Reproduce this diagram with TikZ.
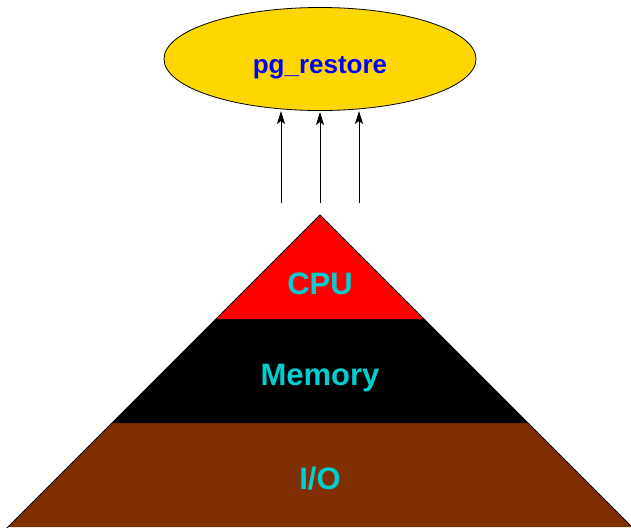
\documentclass[tikz,border=0pt]{standalone}
\usepackage{fontspec}
\setmainfont{Liberation Sans}
\usetikzlibrary{shapes.geometric,arrows.meta}
\definecolor{ellfill}{RGB}{255,215,0}
\definecolor{cpured}{RGB}{255,0,0}
\definecolor{iobrown}{RGB}{128,48,0}
\definecolor{labcyan}{RGB}{0,206,209}
\definecolor{titleblue}{RGB}{0,0,255}
\begin{document}
\begin{tikzpicture}[x=1pt,y=-1pt,
  lab/.style={text=labcyan,font=\fontsize{31}{32}\selectfont\bfseries},
  uparrow/.style={line width=1pt,-{Stealth[length=13pt,width=8pt,inset=3pt]}}]
\useasboundingbox (0,0) rectangle (631,527);
\begin{scope}
\clip (0,0) rectangle (631,527);
% bands of the pyramid
\fill[iobrown] (112,423) -- (528,423) -- (632,527) -- (8,527) -- cycle;
\fill[black] (216,319) -- (424,319) -- (528,423) -- (112,423) -- cycle;
\fill[cpured] (320,215) -- (424,319) -- (216,319) -- cycle;
\draw[line width=0.8pt] (6,529) -- (320,215) -- (634,529);
\end{scope}
\node[lab] (cpu) at (320,284) {CPU};
\node[lab] (mem) at (320,378) {Memory};
\node[lab] (io) at (320,479) {I/O};
\node[ellipse,draw=black,line width=0.8pt,fill=ellfill,minimum width=312pt,minimum height=103pt,
  inner sep=0pt] (el) at (320,59) {};
\node[text=titleblue,font=\fontsize{26}{27}\selectfont\bfseries] (title) at (320,68) {pg\_restore};
\coordinate (s1) at (281,203);
\coordinate (s2) at (320,203);
\coordinate (s3) at (359,203);
\coordinate (t1) at (281,111);
\coordinate (t2) at (320,112);
\coordinate (t3) at (359,111);
\draw[uparrow] (s1) -- (t1);
\draw[uparrow] (s2) -- (t2);
\draw[uparrow] (s3) -- (t3);
\end{tikzpicture}
\end{document}
